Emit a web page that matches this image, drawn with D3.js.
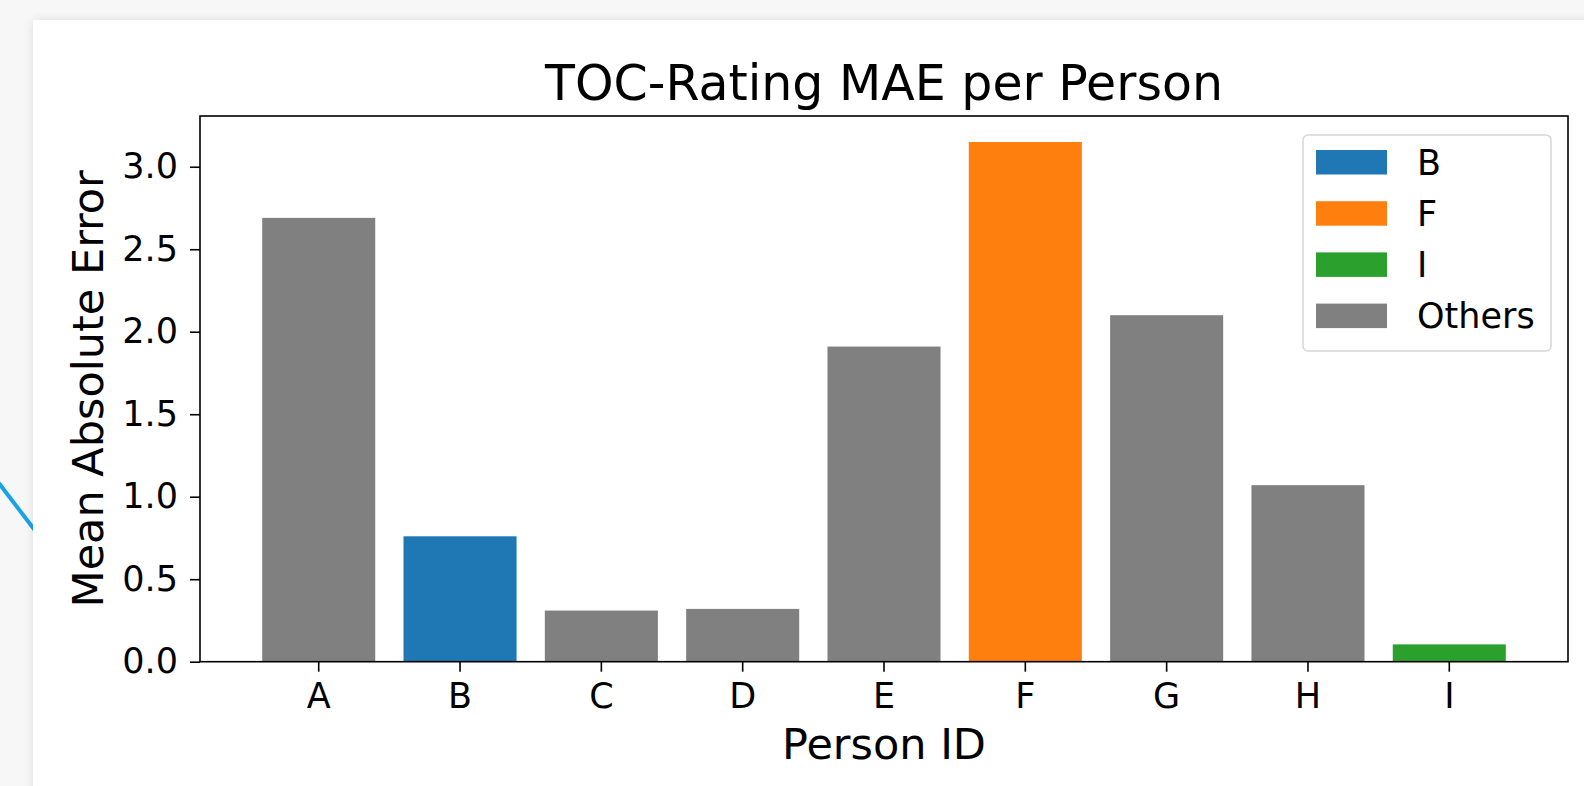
<!DOCTYPE html>
<html>
<head>
<meta charset="utf-8">
<script src="https://cdn.jsdelivr.net/npm/d3@7/dist/d3.min.js"></script>
<style>
  html, body { margin: 0; padding: 0; }
  body {
    width: 1584px; height: 786px; overflow: hidden; position: relative;
    background: #f7f7f7;
    font-family: "DejaVu Sans", sans-serif;
  }
  #deco { position: absolute; left: 0; top: 0; }
  #card {
    position: absolute; left: 33px; top: 20px; width: 1600px; height: 820px;
    background: #fff;
    box-shadow: 0 0 10px rgba(0,0,0,0.10);
  }
  #chart { position: absolute; left: 0; top: 0; }
</style>
</head>
<body>
<svg id="deco" width="1584" height="786"></svg>
<div id="card"></div>
<div id="chart"></div>
<script>
// data
const persons = ["A", "B", "C", "D", "E", "F", "G", "H", "I"];
const maeValues = [2.69, 0.76, 0.31, 0.32, 1.91, 3.15, 2.10, 1.07, 0.105];
const highlighted = ["B", "F", "I"];
const highlightColors = ["#1f77b4", "#ff7f0e", "#2ca02c"];
const otherColor = "#808080";
const legendLabels = ["B", "F", "I", "Others"];
const yTicks = [0, 0.5, 1.0, 1.5, 2.0, 2.5, 3.0];

// stray background stroke behind the card
d3.select("#deco").append("line")
  .attr("x1", -2).attr("y1", 482)
  .attr("x2", 40).attr("y2", 537)
  .attr("stroke", "#1aa3e4")
  .attr("stroke-width", 4);

const W = 1584, H = 786;
const plot = { left: 200, right: 1568, top: 116, bottom: 661.7 };

const svg = d3.select("#chart").append("svg")
  .attr("width", W)
  .attr("height", H)
  .style("font-family", "'DejaVu Sans', sans-serif");

// scales (matplotlib-like margins)
const x = d3.scaleBand()
  .domain(persons)
  .range([plot.left, plot.right])
  .paddingInner(0.2)
  .paddingOuter(0.44);

const y = d3.scaleLinear()
  .domain([0, d3.max(maeValues) * 1.05])
  .range([plot.bottom, plot.top]);

const colorOf = p => {
  const i = highlighted.indexOf(p);
  return i >= 0 ? highlightColors[i] : otherColor;
};

// bars
svg.append("g")
  .selectAll("rect")
  .data(persons.map((p, i) => ({ p, v: maeValues[i] })))
  .join("rect")
  .attr("x", d => x(d.p))
  .attr("y", d => y(d.v))
  .attr("width", x.bandwidth())
  .attr("height", d => y(0) - y(d.v))
  .attr("fill", d => colorOf(d.p));

// axes
const yAxis = svg.append("g")
  .attr("transform", `translate(${plot.left},0)`)
  .call(d3.axisLeft(y)
    .tickValues(yTicks)
    .tickSize(10)
    .tickPadding(12)
    .tickFormat(d3.format(".1f")));

const xAxis = svg.append("g")
  .attr("transform", `translate(0,${plot.bottom})`)
  .call(d3.axisBottom(x)
    .tickSize(10)
    .tickPadding(11));

[xAxis, yAxis].forEach(g => {
  g.select(".domain").remove();
  g.selectAll(".tick line").attr("stroke", "#000").attr("stroke-width", 1.6);
  g.selectAll(".tick text")
    .attr("fill", "#000")
    .style("font-size", "35px")
    .style("font-family", "'DejaVu Sans', sans-serif");
});

// frame
svg.append("rect")
  .attr("x", plot.left)
  .attr("y", plot.top)
  .attr("width", plot.right - plot.left)
  .attr("height", plot.bottom - plot.top)
  .attr("fill", "none")
  .attr("stroke", "#000")
  .attr("stroke-width", 1.6);

// title
svg.append("text")
  .attr("x", (plot.left + plot.right) / 2)
  .attr("y", 100)
  .attr("text-anchor", "middle")
  .style("font-size", "49px")
  .text("TOC-Rating MAE per Person");

// axis labels
svg.append("text")
  .attr("x", (plot.left + plot.right) / 2)
  .attr("y", 759)
  .attr("text-anchor", "middle")
  .style("font-size", "43px")
  .text("Person ID");

svg.append("text")
  .attr("transform", `translate(103,${(plot.top + plot.bottom) / 2}) rotate(-90)`)
  .attr("text-anchor", "middle")
  .style("font-size", "43px")
  .text("Mean Absolute Error");

// legend
const legend = svg.append("g").attr("transform", "translate(1303,135)");
legend.append("rect")
  .attr("x", 0).attr("y", 0)
  .attr("width", 248).attr("height", 216)
  .attr("rx", 5)
  .attr("fill", "#fff")
  .attr("stroke", "#d6d6d6")
  .attr("stroke-width", 1.5);

const legendColors = highlightColors.concat([otherColor]);
const item = legend.selectAll("g.item")
  .data(legendLabels)
  .join("g")
  .attr("class", "item")
  .attr("transform", (d, i) => `translate(0,${15 + i * 51.2})`);

item.append("rect")
  .attr("x", 13).attr("y", 0)
  .attr("width", 71).attr("height", 24.5)
  .attr("fill", (d, i) => legendColors[i]);

item.append("text")
  .attr("x", 114)
  .attr("y", 24.5)
  .style("font-size", "35px")
  .text(d => d);
</script>
</body>
</html>
